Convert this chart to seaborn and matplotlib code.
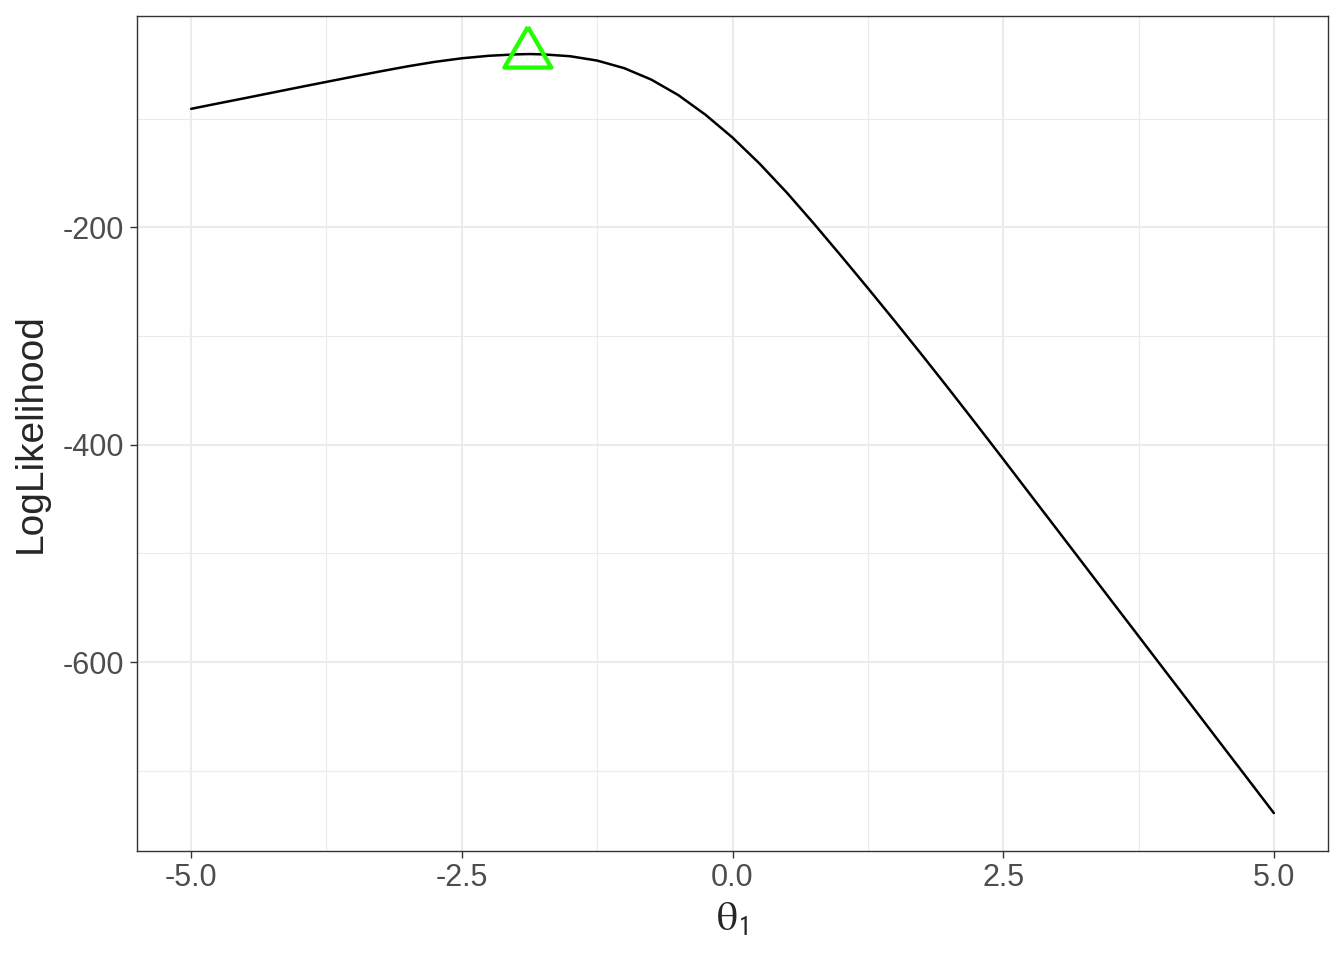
import numpy as np
import pandas as pd
import seaborn as sns
import matplotlib.pyplot as plt
from matplotlib.ticker import MultipleLocator

# profile log-likelihood
theta = [-5.0, -4.75, -4.5, -4.25, -4.0, -3.75, -3.5, -3.25, -3.0, -2.75, -2.5,
         -2.25, -2.0, -1.875, -1.75, -1.5, -1.25, -1.0, -0.75, -0.5, -0.25, 0.0,
         0.25, 0.5, 0.75, 1.0, 1.25, 1.5, 1.75, 2.0, 2.25, 2.5, 2.75, 3.0,
         3.25, 3.5, 3.75, 4.0, 4.25, 4.5, 4.75, 5.0]
loglik = [-91.0, -86.0, -81.1, -76.1, -71.1, -66.2, -61.3, -56.5, -51.9, -47.8, -44.5,
          -42.2, -40.9, -40.6, -40.9, -42.6, -46.6, -53.6, -64.1, -78.4, -96.4, -117.4,
          -141.4, -167.9, -196.4, -225.9, -255.9, -286.4, -317.4, -348.9, -380.9, -413.2, -445.8, -478.3,
          -510.9, -543.5, -576.0, -608.6, -641.1, -673.7, -706.2, -738.8]

# maximum marked with the triangle
mle_theta = [-1.89]
mle_loglik = [-40.6]

df = pd.DataFrame({"theta": theta, "loglik": loglik})
df_max = pd.DataFrame({"theta": mle_theta, "loglik": mle_loglik})

sns.set_theme(style="white")
plt.rcParams["font.family"] = ["Liberation Sans", "DejaVu Sans"]
plt.rcParams["mathtext.fontset"] = "stix"

fig = plt.figure(figsize=(13.44, 9.6), dpi=100)
ax = fig.add_axes([137 / 1344, 109 / 960, 1191 / 1344, 835 / 960])

sns.lineplot(data=df, x="theta", y="loglik", color="black", linewidth=1.8, ax=ax, zorder=3)

# open triangle centred on its centroid, like R's pch 2
tri = [(0, 1), (-0.866, -0.5), (0.866, -0.5), (0, 1)]
sns.scatterplot(data=df_max, x="theta", y="loglik", marker=tri, s=39 ** 2,
                facecolors="none", edgecolor="#22FF00", linewidth=3.1, ax=ax, zorder=4)

ax.set_xlim(-5.5, 5.5)
ax.set_ylim(-773.7, -5.6)
ax.set_xticks([-5.0, -2.5, 0.0, 2.5, 5.0])
ax.set_xticklabels(["-5.0", "-2.5", "0.0", "2.5", "5.0"])
ax.set_yticks([-600, -400, -200])
ax.set_yticklabels(["-600", "-400", "-200"])
ax.xaxis.set_minor_locator(MultipleLocator(1.25))
ax.yaxis.set_minor_locator(MultipleLocator(100))

ax.grid(which="major", color="#EBEBEB", linewidth=1.5)
ax.grid(which="minor", color="#EBEBEB", linewidth=0.8)
ax.set_axisbelow(True)

ax.tick_params(axis="both", which="major", length=5, width=1.0, color="#333333",
               labelsize=22, labelcolor="#4D4D4D", pad=4, direction="out")
ax.tick_params(axis="both", which="minor", length=0)
ax.tick_params(bottom=True, left=True)
for s in ax.spines.values():
    s.set_color("#333333")
    s.set_linewidth(1.0)

ax.set_xlabel(r"$\mathrm{\theta}_{\mathsf{1}}$", fontsize=30, labelpad=4)
ax.set_ylabel("LogLikelihood", fontsize=28, labelpad=10)

fig.savefig("out.png", dpi=100)
